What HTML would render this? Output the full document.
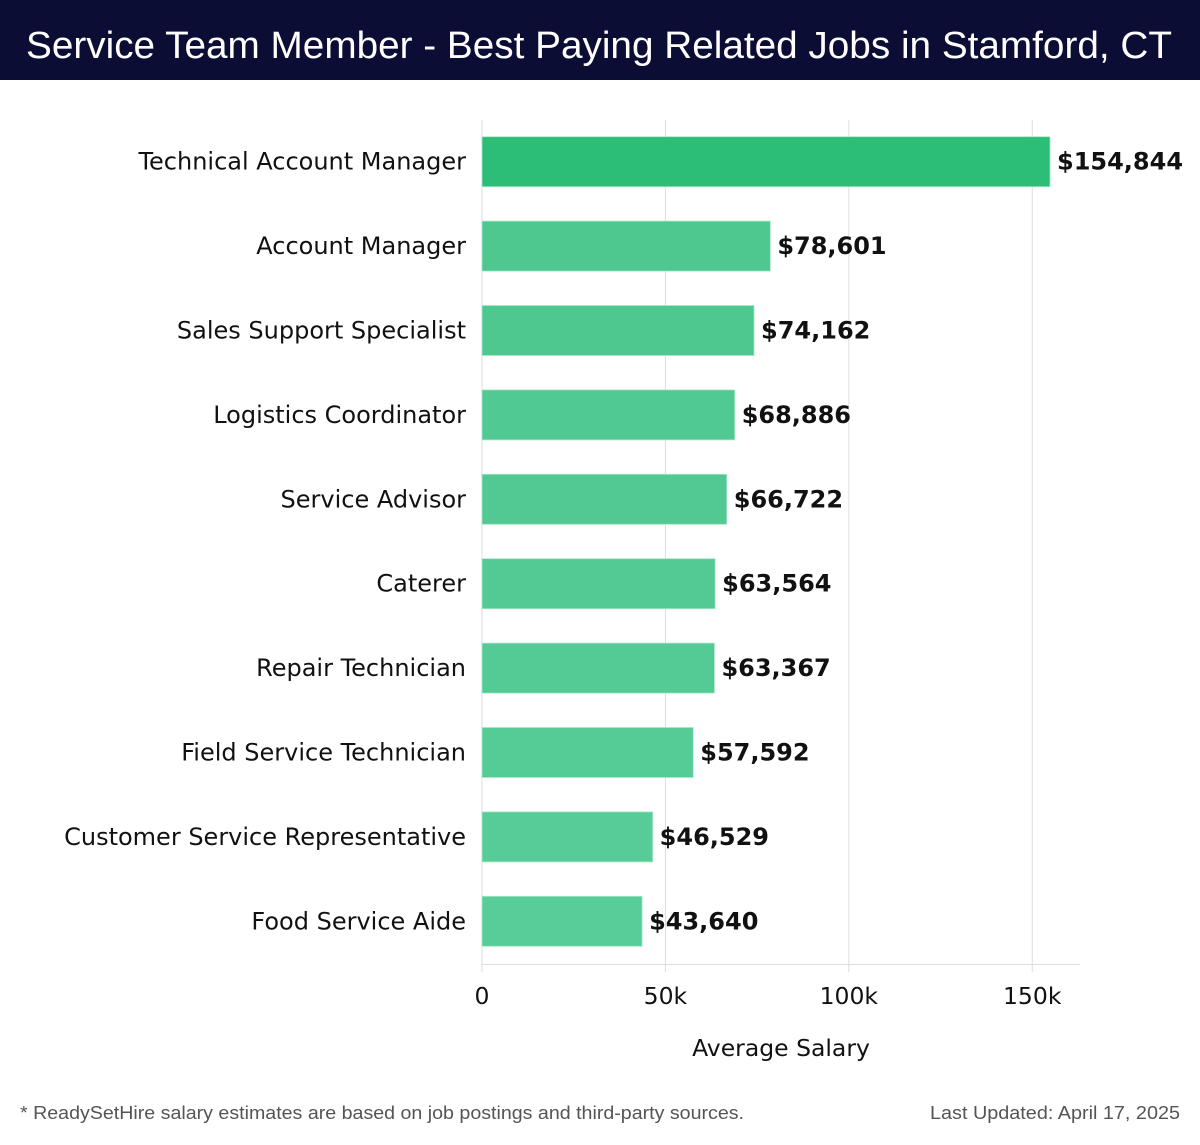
<!DOCTYPE html>
<html><head><meta charset="utf-8"><style>
body{margin:0;background:#fff;width:1200px;height:1140px;overflow:hidden}
text{font-family:"DejaVu Sans","Liberation Sans",sans-serif}
</style></head><body>
<svg id="chart" width="1200" height="1140">
<rect x="0" y="0" width="1200" height="80" fill="#0b0d35"/>
<text x="26" y="58" font-size="38" fill="#fff" textLength="1146" lengthAdjust="spacingAndGlyphs" style="font-family:'Liberation Sans',sans-serif">Service Team Member - Best Paying Related Jobs in Stamford, CT</text>
<g id="grid"></g><g id="bars"></g><g id="axis"></g>
<text x="781" y="1056" font-size="23.5" text-anchor="middle" fill="#111">Average Salary</text>
<text x="20" y="1119" font-size="18" fill="#555" textLength="724" lengthAdjust="spacingAndGlyphs" style="font-family:'Liberation Sans',sans-serif">* ReadySetHire salary estimates are based on job postings and third-party sources.</text>
<text x="930" y="1119" font-size="18" fill="#555" textLength="250" lengthAdjust="spacingAndGlyphs" style="font-family:'Liberation Sans',sans-serif">Last Updated: April 17, 2025</text>
</svg>
<script>
const categories=["Technical Account Manager","Account Manager","Sales Support Specialist","Logistics Coordinator","Service Advisor","Caterer","Repair Technician","Field Service Technician","Customer Service Representative","Food Service Aide"];
const salaries=[154844,78601,74162,68886,66722,63564,63367,57592,46529,43640];
const ticks=[0,50000,100000,150000];
const tickLabels=["0","50k","100k","150k"];
const NS="http://www.w3.org/2000/svg";
const x0=482,pxPer=(1050-482)/154844,plotTop=120,band=84.4,bh=50;
const xs=v=>x0+v*pxPer;
const ys=i=>plotTop+band*i+(band-bh)/2-0.5;
function mk(t,a,p){const e=document.createElementNS(NS,t);for(const k in a)e.setAttribute(k,a[k]);p.appendChild(e);return e;}
const grid=document.getElementById('grid'),bars=document.getElementById('bars'),axis=document.getElementById('axis');
const bottom=plotTop+band*categories.length;
ticks.forEach((t,i)=>{
 const g=mk('line',{x1:xs(t),x2:xs(t),y1:plotTop,y2:bottom+8,stroke:'#ddd','stroke-width':1},grid);
 
 
 const l=mk('text',{x:xs(t),y:1004,'font-size':23.5,'text-anchor':'middle',fill:'#111'},axis);
 l.textContent=tickLabels[i];
 
 
});
const ax=mk('line',{x1:x0,x2:1080,y1:bottom+0.5,y2:bottom+0.5,stroke:'#ddd','stroke-width':1},axis);


categories.forEach((c,i)=>{
 const col=i===0?'#2cbd76':`rgb(${77+i*1.2},${199+i*0.5},${142+i*1.2})`;
 const r=mk('rect',{x:x0,y:ys(i),width:xs(salaries[i])-x0,height:bh,fill:col,stroke:'#a8e8c8','stroke-width':0.8},bars);
 
 
 const l=mk('text',{x:466,y:ys(i)+bh/2+8,'font-size':24,'text-anchor':'end',fill:'#111'},bars);
 l.textContent=c;
 
 
 const v=mk('text',{x:xs(salaries[i])+7,y:ys(i)+bh/2+8,'font-size':24,'font-weight':'bold',fill:'#111'},bars);
 v.textContent='$'+salaries[i].toLocaleString('en-US');
 
 
});
</script>
</body></html>
